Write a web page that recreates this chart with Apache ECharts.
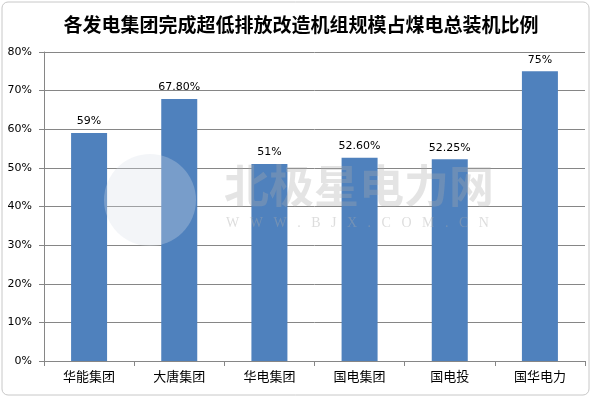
<!DOCTYPE html>
<html>
<head>
<meta charset="utf-8">
<script src="https://cdn.jsdelivr.net/npm/echarts@6/dist/echarts.min.js"></script>
<style>
  html, body { margin: 0; padding: 0; background: #fff; }
  #main { width: 602px; height: 399px; }
</style>
</head>
<body>
<div id="main"></div>
<script>
const titleText = '各发电集团完成超低排放改造机组规模占煤电总装机比例';
const categories = ['华能集团', '大唐集团', '华电集团', '国电集团', '国电投', '国华电力'];
const values = [59, 67.8, 51, 52.6, 52.25, 75];
const valueLabels = ['59%', '67.80%', '51%', '52.60%', '52.25%', '75%'];

const chart = echarts.init(document.getElementById('main'), null, { renderer: 'canvas' });

const option = {
  backgroundColor: '#ffffff',
  animation: false,
  title: {
    text: titleText,
    left: 'center',
    top: 10,
    textStyle: { fontFamily: 'Noto Sans CJK SC', fontSize: 19, fontWeight: 'bold', color: '#000' }
  },
  grid: { left: 44, right: 17, top: 52, bottom: 38 },
  xAxis: {
    type: 'category',
    data: categories,
    axisLine: { lineStyle: { color: '#868686' } },
    axisTick: { show: true, alignWithLabel: false, length: 5, lineStyle: { color: '#868686' } },
    axisLabel: { fontFamily: 'Noto Sans CJK SC', fontSize: 13, color: '#000', margin: 9 }
  },
  yAxis: {
    type: 'value',
    min: 0,
    max: 80,
    interval: 10,
    axisLine: { show: true, lineStyle: { color: '#868686' } },
    axisTick: { show: true, length: 5, lineStyle: { color: '#868686' } },
    splitLine: { lineStyle: { color: '#868686' } },
    axisLabel: { formatter: '{value}%', fontFamily: 'DejaVu Sans', fontSize: 11, color: '#000', margin: 12 }
  },
  series: [{
    type: 'bar',
    data: values,
    barWidth: 36,
    itemStyle: { color: '#4F81BD' },
    label: {
      show: true,
      position: 'top',
      distance: 6,
      fontFamily: 'DejaVu Sans',
      fontSize: 11,
      color: '#000',
      formatter: p => valueLabels[p.dataIndex]
    }
  }],
  graphic: [
    {
      type: 'rect', z: -1, silent: true,
      shape: { x: 2, y: 2, width: 587, height: 393, r: 6 },
      style: { fill: 'none', stroke: '#c8c8c8', lineWidth: 1 }
    },
    // watermark
    {
      type: 'circle', z: 100, silent: true,
      shape: { cx: 150, cy: 200, r: 46 },
      style: { fill: 'rgba(215,222,232,0.3)' }
    },
    {
      type: 'text', z: 100, silent: true,
      left: 224, top: 163,
      style: {
        text: '北极星电力网',
        font: 'bold 45px "Noto Sans CJK SC"',
        fill: 'rgba(170,170,170,0.32)'
      }
    },
    {
      type: 'text', z: 100, silent: true,
      left: 226, top: 216,
      style: {
        text: 'W   W   W   .   B   J   X   .   C   O   M   .   C   N',
        font: '14px "Liberation Serif"',
        fill: 'rgba(170,170,170,0.4)'
      }
    }
  ]
};

chart.setOption(option);
</script>
</body>
</html>
